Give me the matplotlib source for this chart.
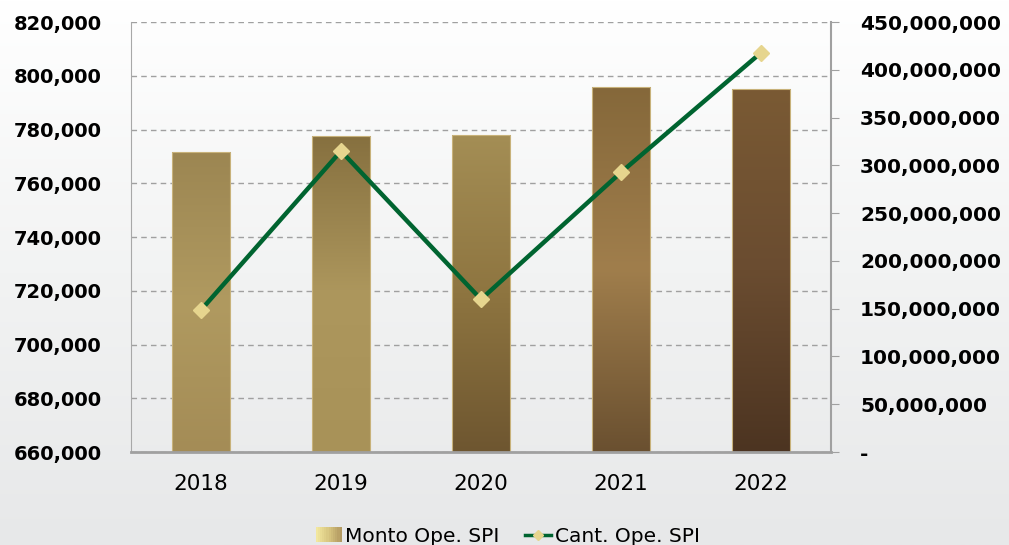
import numpy as np
import matplotlib.pyplot as plt
from matplotlib.colors import LinearSegmentedColormap
from matplotlib.patches import Rectangle
from matplotlib.lines import Line2D
from matplotlib.legend_handler import HandlerBase
from matplotlib.ticker import FuncFormatter

plt.rcParams['font.family'] = ['DejaVu Sans']

# datos
anios = ['2018', '2019', '2020', '2021', '2022']
monto = [771500, 777600, 778100, 795900, 795000]
cantidad = [148600000, 315000000, 159800000, 292700000, 417900000]

# colores de cada barra (arriba, medio, abajo)
colores_barras = [
    ['#9c8652', '#b09a60', '#a48c56'],
    ['#86703f', '#ad975d', '#a89258'],
    ['#a48e55', '#8e7540', '#6e5630'],
    ['#85683a', '#a07e4c', '#6a5030'],
    ['#7a5a34', '#6a4c30', '#4c3421'],
]


class HandlerDegradado(HandlerBase):
    # cuadro de leyenda con degradado horizontal
    def create_artists(self, legend, orig_handle, xdescent, ydescent,
                       width, height, fontsize, trans):
        cmap = LinearSegmentedColormap.from_list('ley', ['#f2e79e', '#d8c680', '#b39a62'])
        n = 12
        arts = []
        for i in range(n):
            r = Rectangle((-xdescent + i * width / n, -ydescent - 1), width / n + 0.3, height + 2,
                          facecolor=cmap(i / (n - 1)), edgecolor='none', transform=trans)
            arts.append(r)
        return arts


fig = plt.figure(figsize=(10.09, 5.45), dpi=100)

# fondo degradado de toda la figura
fondo = fig.add_axes([0, 0, 1, 1], zorder=-5)
grad = np.linspace(0, 1, 256).reshape(-1, 1)
cmap_fondo = LinearSegmentedColormap.from_list('fondo', ['#ffffff', '#f2f3f3', '#e7e8e9'])
fondo.imshow(grad, aspect='auto', cmap=cmap_fondo, extent=[0, 1, 0, 1], origin='upper')
fondo.axis('off')

ax = fig.add_axes([0.1298, 0.1706, 0.6938, 0.789])
ax.set_facecolor('none')
ax2 = ax.twinx()

x = np.arange(len(anios))
barras = ax.bar(x, monto, width=0.42, color='none', edgecolor='#c8b27a', linewidth=0.8, zorder=2)

ymin, ymax = 660000, 820000
for b, cols in zip(barras, colores_barras):
    cmap = LinearSegmentedColormap.from_list('b', cols)
    x0 = b.get_x()
    im = ax.imshow(grad, aspect='auto', cmap=cmap, origin='upper',
                   extent=[x0, x0 + b.get_width(), ymin, b.get_height()], zorder=1)
    im.set_clip_path(b)

ax.set_xlim(-0.5, 4.5)
ax.set_ylim(ymin, ymax)
ax.set_yticks(np.arange(660000, 820001, 20000))
ax.yaxis.set_major_formatter(FuncFormatter(lambda v, p: f'{v:,.0f}'))
ax.set_xticks(x)
ax.set_xticklabels(anios, fontsize=15.5)
ax.grid(axis='y', color='#a0a0a0', linestyle=(0, (4, 3)), linewidth=1)
ax.set_axisbelow(True)
for lab in ax.get_yticklabels():
    lab.set_fontsize(14)
    lab.set_fontweight('bold')
ax.tick_params(axis='y', length=0, pad=21)
ax.tick_params(axis='x', length=0, pad=16)

for s in ['top', 'right']:
    ax.spines[s].set_visible(False)
ax.spines['left'].set_color('#a8a8a8')
ax.spines['bottom'].set_color('#a0a0a0')
ax.spines['bottom'].set_linewidth(2)

ax2.plot(x, cantidad, color='#006430', linewidth=3.2, marker='D', markersize=8,
         markerfacecolor='#e6d58e', markeredgecolor='#e6d58e', zorder=3)
ax2.set_ylim(0, 450000000)
ax2.set_yticks(np.arange(0, 450000001, 50000000))
ax2.yaxis.set_major_formatter(FuncFormatter(lambda v, p: '-' if v == 0 else f'{v:,.0f}'))
for lab in ax2.get_yticklabels():
    lab.set_fontsize(14.5)
    lab.set_fontweight('bold')
ax2.tick_params(axis='y', length=6, color='#a0a0a0', pad=15)
for s in ['top', 'left', 'bottom']:
    ax2.spines[s].set_visible(False)
ax2.spines['right'].set_color('#a0a0a0')
ax2.spines['right'].set_linewidth(1.5)

h_monto = Rectangle((0, 0), 1, 1, label='Monto Ope. SPI')
h_cant = Line2D([0], [0], color='#006430', linewidth=2.5, marker='D', markersize=5,
                markerfacecolor='#e6d58e', markeredgecolor='#e6d58e', label='Cant. Ope. SPI')
fig.legend(handles=[h_monto, h_cant], loc='center', bbox_to_anchor=(0.503, 0.016), ncol=2,
           frameon=False, fontsize=14.5, handlelength=1.3, handleheight=0.6, handletextpad=0.15,
           columnspacing=1.3, borderpad=0, handler_map={Rectangle: HandlerDegradado()})

fig.savefig('out.png', dpi=100)
